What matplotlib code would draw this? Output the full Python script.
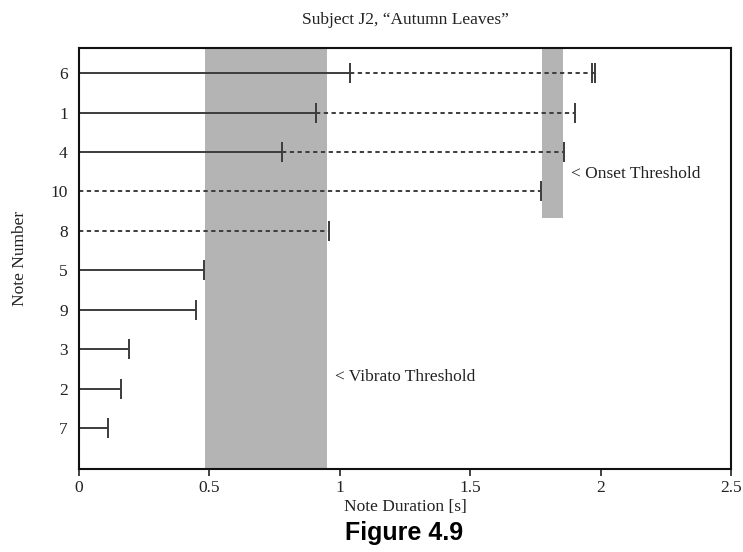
import matplotlib
matplotlib.use("Agg")
import matplotlib.pyplot as plt

# notes listed bottom to top
notes = ['7', '2', '3', '9', '5', '8', '10', '4', '1', '6']
solid_end = [0.11, 0.16, 0.19, 0.45, 0.48, None, None, 0.78, 0.91, 1.04]
dashed_end = [None, None, None, None, None, 0.96, 1.77, 1.86, 1.90, 1.977]
extra_tick = {'6': 1.968}

vibrato_band = (0.485, 0.952)
onset_band = (1.774, 1.855)
onset_band_bottom = 6.33

line_col = '#3c3c3c'
band_col = '#b4b4b4'
txt_col = '#222222'
fs = 12.5

plt.rcParams['font.family'] = ['Liberation Serif', 'DejaVu Serif']

fig = plt.figure(figsize=(7.43, 5.52), dpi=100)
ax = fig.add_axes([0.1063, 0.1504, 0.8776, 0.7626])

ax.axvspan(*vibrato_band, color=band_col, lw=0, zorder=0)
ax.fill_between(onset_band, onset_band_bottom, 11, color=band_col, lw=0, zorder=0)

for i, note in enumerate(notes):
    y = i + 1
    s = solid_end[i]
    d = dashed_end[i]
    start = 0
    if s is not None:
        ax.plot([0, s], [y, y], color=line_col, lw=1.4, solid_capstyle='butt')
        ax.plot([s], [y], marker='|', ms=14, mew=1.4, color=line_col)
        start = s
    if d is not None:
        ax.plot([start, d], [y, y], color=line_col, lw=1.4, dashes=(2.2, 1.8))
        ax.plot([d], [y], marker='|', ms=14, mew=1.4, color=line_col)
    if note in extra_tick:
        ax.plot([extra_tick[note]], [y], marker='|', ms=14, mew=1.4, color=line_col)

ax.text(0.98, 2.3, '< Vibrato Threshold', fontsize=fs, va='center', ha='left', color=txt_col)
ax.text(1.886, 7.45, '< Onset Threshold', fontsize=fs, va='center', ha='left', color=txt_col)

ax.set_xlim(0, 2.5)
ax.set_ylim(-0.04, 10.64)
ax.set_xticks([0, 0.5, 1, 1.5, 2, 2.5])
ax.set_xticklabels(['0', '0.5', '1', '1.5', '2', '2.5'])
ax.set_yticks(range(1, len(notes) + 1))
ax.set_yticklabels(notes)
ax.tick_params(axis='x', direction='out', length=5, width=1.2, labelsize=fs, pad=3, colors=txt_col)
ax.tick_params(axis='y', length=0, labelsize=fs, pad=8, colors=txt_col)
for sp in ax.spines.values():
    sp.set_linewidth(1.5)
    sp.set_color('#111111')

ax.set_title('Subject J2, \u201cAutumn Leaves\u201d', fontsize=fs, pad=17, color=txt_col)
ax.set_xlabel('Note Duration [s]', fontsize=fs, labelpad=2, color=txt_col)
ax.set_ylabel('Note Number', fontsize=fs, labelpad=16, color=txt_col)

fig.text(0.544, 0.034, 'Figure 4.9', fontsize=18, fontweight='bold',
         family=['Liberation Sans', 'DejaVu Sans'], ha='center', va='center')

fig.savefig('out.png', dpi=100)
